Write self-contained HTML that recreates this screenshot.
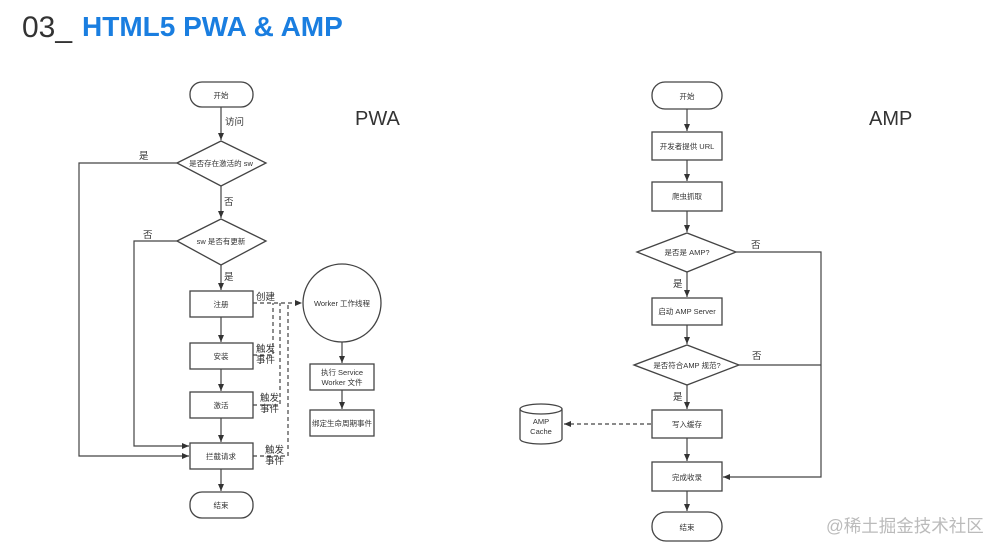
<!DOCTYPE html>
<html><head><meta charset="utf-8"><style>
body{margin:0;background:#fff;width:992px;height:543px;overflow:hidden}
svg{display:block}
text{font-family:"Liberation Sans","Noto Sans CJK SC",sans-serif;fill:#333}
</style></head><body>
<svg width="992" height="543" viewBox="0 0 992 543" xmlns="http://www.w3.org/2000/svg">
<defs>
<marker id="a" markerWidth="8" markerHeight="8" refX="7" refY="4" orient="auto" markerUnits="userSpaceOnUse"><path d="M0,1 L7,4 L0,7z" fill="#333"/></marker>
</defs>
<text x="22" y="37" font-size="30" fill="#333" style="fill:#333">03_</text>
<text x="82" y="36" font-size="28" font-weight="bold" style="fill:#1a7ee0">HTML5 PWA &amp; AMP</text>

<g stroke="#444" stroke-width="1.3" fill="#fff">
<rect x="190" y="82" width="63" height="25" rx="12"/>
<polygon points="177,163 221,141 266,163 221,186"/>
<polygon points="177,241 221,219 266,241 221,265"/>
<rect x="190" y="291" width="63" height="26"/>
<rect x="190" y="343" width="63" height="26"/>
<rect x="190" y="392" width="63" height="26"/>
<rect x="190" y="443" width="63" height="26"/>
<rect x="190" y="492" width="63" height="26" rx="12"/>
<circle cx="342" cy="303" r="39"/>
<rect x="310" y="364" width="64" height="26"/>
<rect x="310" y="410" width="64" height="26"/>
<rect x="652" y="82" width="70" height="27" rx="13"/>
<rect x="652" y="132" width="70" height="28"/>
<rect x="652" y="182" width="70" height="29"/>
<polygon points="637,252 687,233 736,252 687,272"/>
<rect x="652" y="298" width="70" height="27"/>
<polygon points="634,365 687,345 739,365 687,385"/>
<rect x="652" y="410" width="70" height="28"/>
<rect x="652" y="462" width="70" height="29"/>
<rect x="652" y="512" width="70" height="29" rx="14"/>
<path d="M520,409 v30 a21,5 0 0 0 42,0 v-30 a21,5 0 0 0 -42,0 a21,5 0 0 0 42,0"/>
</g>

<g stroke="#444" stroke-width="1.2" fill="none">
<line x1="221" y1="107" x2="221" y2="140" marker-end="url(#a)"/>
<line x1="221" y1="186" x2="221" y2="218" marker-end="url(#a)"/>
<line x1="221" y1="265" x2="221" y2="290" marker-end="url(#a)"/>
<line x1="221" y1="317" x2="221" y2="342" marker-end="url(#a)"/>
<line x1="221" y1="369" x2="221" y2="391" marker-end="url(#a)"/>
<line x1="221" y1="418" x2="221" y2="442" marker-end="url(#a)"/>
<line x1="221" y1="469" x2="221" y2="491" marker-end="url(#a)"/>
<polyline points="177,163 79,163 79,456 189,456" marker-end="url(#a)"/>
<polyline points="177,241 134,241 134,446 189,446" marker-end="url(#a)"/>
<line x1="342" y1="342" x2="342" y2="363" marker-end="url(#a)"/>
<line x1="342" y1="390" x2="342" y2="409" marker-end="url(#a)"/>
<g stroke-dasharray="4,3">
<line x1="253" y1="303" x2="302" y2="303" marker-end="url(#a)"/>
<polyline points="253,355 273,355 273,303"/>
<polyline points="253,405 280,405 280,303"/>
<polyline points="253,456 288,456 288,303"/>
<line x1="651" y1="424" x2="564" y2="424" marker-end="url(#a)"/>
</g>
<line x1="687" y1="109" x2="687" y2="131" marker-end="url(#a)"/>
<line x1="687" y1="160" x2="687" y2="181" marker-end="url(#a)"/>
<line x1="687" y1="211" x2="687" y2="232" marker-end="url(#a)"/>
<line x1="687" y1="272" x2="687" y2="297" marker-end="url(#a)"/>
<line x1="687" y1="325" x2="687" y2="344" marker-end="url(#a)"/>
<line x1="687" y1="385" x2="687" y2="409" marker-end="url(#a)"/>
<line x1="687" y1="438" x2="687" y2="461" marker-end="url(#a)"/>
<line x1="687" y1="491" x2="687" y2="511" marker-end="url(#a)"/>
<polyline points="736,252 821,252 821,477 723,477" marker-end="url(#a)"/>
<line x1="739" y1="365" x2="821" y2="365"/>
</g>

<g font-size="7.5" text-anchor="middle">
<text x="221" y="98">开始</text>
<text x="221" y="166">是否存在激活的 sw</text>
<text x="221" y="244">sw 是否有更新</text>
<text x="221" y="307">注册</text>
<text x="221" y="359">安装</text>
<text x="221" y="408">激活</text>
<text x="221" y="459">拦截请求</text>
<text x="221" y="508">结束</text>
<text x="342" y="306">Worker 工作线程</text>
<text x="342" y="375">执行 Service</text>
<text x="342" y="385">Worker 文件</text>
<text x="342" y="426">绑定生命周期事件</text>
<text x="687" y="99">开始</text>
<text x="687" y="149">开发者提供 URL</text>
<text x="687" y="199">爬虫抓取</text>
<text x="687" y="255">是否是 AMP?</text>
<text x="687" y="314">启动 AMP Server</text>
<text x="687" y="368">是否符合AMP 规范?</text>
<text x="687" y="427">写入缓存</text>
<text x="687" y="480">完成收录</text>
<text x="687" y="530">结束</text>
<text x="541" y="424">AMP</text>
<text x="541" y="434">Cache</text>
</g>
<g font-size="9.5">
<text x="225" y="125">访问</text>
<text x="139" y="159">是</text>
<text x="224" y="205">否</text>
<text x="143" y="238">否</text>
<text x="224" y="280">是</text>
<text x="256" y="300">创建</text>
<text x="256" y="352">触发</text><text x="256" y="363">事件</text>
<text x="260" y="401">触发</text><text x="260" y="412">事件</text>
<text x="265" y="453">触发</text><text x="265" y="464">事件</text>
<text x="751" y="248">否</text>
<text x="673" y="287">是</text>
<text x="752" y="359">否</text>
<text x="673" y="400">是</text>
</g>
<text x="355" y="125" font-size="20" style="fill:#333">PWA</text>
<text x="869" y="125" font-size="20" style="fill:#333">AMP</text>
<text x="826" y="532" font-size="17.5" style="fill:#bbb">@稀土掘金技术社区</text>
</svg>
</body></html>
